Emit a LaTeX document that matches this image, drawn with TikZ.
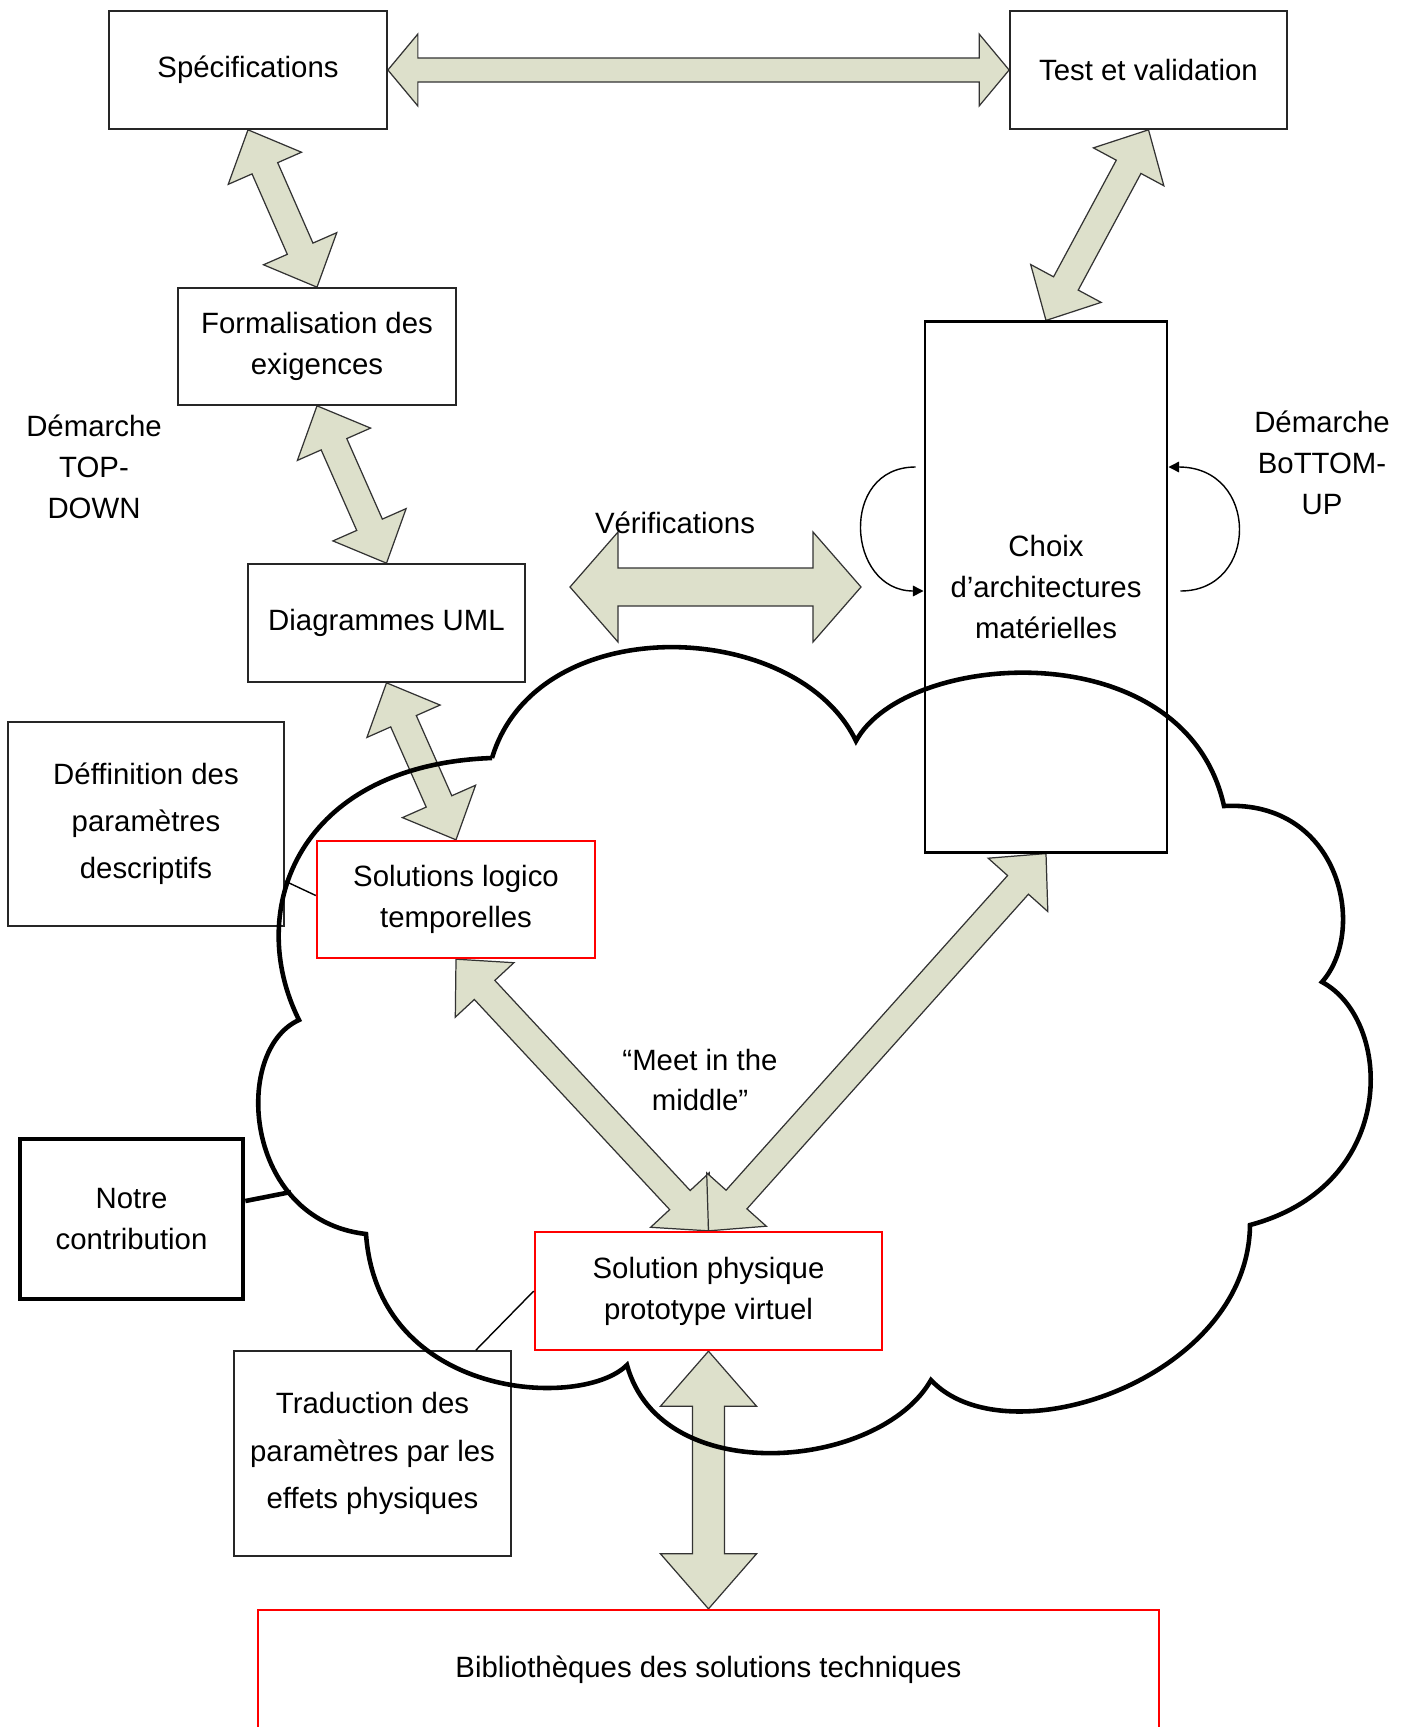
\documentclass[tikz,border=0pt]{standalone}
\usepackage{xcolor}
\definecolor{dde0cb}{HTML}{DDE0CB}
\definecolor{ff0000}{HTML}{FF0000}
\usepackage{fontspec}
\setmainfont[Ligatures=CommonOff]{Liberation Sans}
\usepackage{tikz}
\usetikzlibrary{calc}
\usetikzlibrary{arrows.meta}

\pgfdeclarelayer{background}
\pgfsetlayers{background,main}

\tikzset{
    plainbox/.style={draw=black!85, line width=0.45pt, fill=white, align=center, inner sep=0pt},
    redbox/.style={draw=ff0000, line width=0.65pt, fill=white, align=center, inner sep=0pt},
    choixbox/.style={draw=black, line width=0.8pt, fill=white, align=center, inner sep=0pt},
    contribbox/.style={draw=black, line width=1.3pt, fill=white, align=center, inner sep=0pt},
    blockarrow/.style={fill=dde0cb, draw=black!80, line width=0.35pt, line join=miter},
    cloudline/.style={draw=black, line width=1.3pt},
    thinline/.style={draw=black, line width=0.4pt},
    looparrow/.style={draw=black, line width=0.4pt, -{Triangle[length=3pt, width=3pt]}}
}

% double block arrow: tip, tip, shaft half width, head half width, head length
\newcommand{\dblarrow}[5]{%
    \coordinate (ta) at (#1);
    \coordinate (tb) at (#2);
    \coordinate (ha) at ($(ta)!#5*0.01cm!(tb)$);
    \coordinate (hb) at ($(tb)!#5*0.01cm!(ta)$);
    \filldraw[blockarrow] (ta)
        -- ($(ha)!#4*0.01cm!90:(ta)$) -- ($(ha)!#3*0.01cm!90:(ta)$)
        -- ($(hb)!#3*0.01cm!-90:(tb)$) -- ($(hb)!#4*0.01cm!-90:(tb)$)
        -- (tb)
        -- ($(hb)!#4*0.01cm!90:(tb)$) -- ($(hb)!#3*0.01cm!90:(tb)$)
        -- ($(ha)!#3*0.01cm!-90:(ta)$) -- ($(ha)!#4*0.01cm!-90:(ta)$)
        -- cycle;
}

\begin{document}
\begin{tikzpicture}[x=0.01cm, y=-0.01cm, font=\fontsize{8.35}{11.6}\selectfont]
            \useasboundingbox (0, 0) rectangle (1410, 1727);

            % boxes
            \node[plainbox, minimum width=2.78cm, minimum height=1.18cm] (spec) at (248, 70) {Spécifications};
            \node[plainbox, minimum width=2.77cm, minimum height=1.18cm] (test) at (1148.5, 70) {Test et validation};
            \node[plainbox, minimum width=2.78cm, minimum height=1.17cm] (form) at (317, 346.5) {Formalisation des\\exigences};
            \node[plainbox, minimum width=2.77cm, minimum height=1.18cm] (diag) at (386.5, 623) {Diagrammes UML};
            \node[choixbox, minimum width=2.42cm, minimum height=5.30cm] (choix) at (1046, 587) {Choix\\d’architectures\\matérielles};
            \node[plainbox, minimum width=2.76cm, minimum height=2.04cm, font=\fontsize{8.35}{13.4}\selectfont] (deff) at (146, 824) {Déffinition des\\paramètres\\descriptifs};
            \node[redbox, minimum width=2.78cm, minimum height=1.17cm] (logico) at (456, 899.5) {Solutions logico\\temporelles};
            \node[contribbox, minimum width=2.23cm, minimum height=1.60cm] (notre) at (131.5, 1219) {Notre\\contribution};
            \node[redbox, minimum width=3.47cm, minimum height=1.18cm] (phys) at (708.5, 1291) {Solution physique\\prototype virtuel};
            \node[plainbox, minimum width=2.77cm, minimum height=2.05cm, font=\fontsize{8.35}{13.4}\selectfont] (trad) at (372.5, 1453.5) {Traduction des\\paramètres par les\\effets physiques};
            \node[redbox, minimum width=9.01cm, minimum height=1.20cm] (biblio) at (708.5, 1670) {Bibliothèques des solutions techniques};

            \coordinate (verifl) at (570, 587);
            \coordinate (verifr) at (861, 587);

            % block arrows
            \begin{pgfonlayer}{background}
                \dblarrow{spec.east}{test.west}{12}{36}{30}
                \dblarrow{spec.south}{form.north}{14}{40}{42}
                \dblarrow{form.south}{diag.north}{14}{40}{42}
                \dblarrow{diag.south}{logico.north}{14}{40}{42}
                \dblarrow{test.south}{choix.north}{14}{40}{42}
                \dblarrow{verifl}{verifr}{19}{55}{48}
                \dblarrow{logico.south}{phys.north}{14}{40}{42}
                \dblarrow{phys.north}{choix.south}{14}{40}{42}
                \dblarrow{phys.south}{biblio.north}{16}{48}{55}
            \end{pgfonlayer}

            % labels
            \node[align=center] (topdown) at (94, 467) {Démarche\\TOP-\\DOWN};
            \node[align=center] (bottomup) at (1322, 463) {Démarche\\BoTTOM-\\UP};
            \node (verif) at (675, 523) {Vérifications};
            \node[align=center] (meet) at (700, 1080) {“Meet in the\\middle”};

            % cloud
            \draw[cloudline] (492, 758)
                .. controls (537, 608) and (797, 618) .. (856, 741)
                .. controls (905, 650) and (1185, 630) .. (1224, 806)
                .. controls (1340, 800) and (1368, 930) .. (1322, 982)
                .. controls (1393, 1020) and (1400, 1185) .. (1250, 1225)
                .. controls (1248, 1380) and (1005, 1460) .. (931, 1380)
                .. controls (880, 1470) and (661, 1490) .. (627, 1365)
                .. controls (582, 1410) and (378, 1400) .. (366, 1234)
                .. controls (243, 1220) and (232, 1050) .. (299, 1020)
                .. controls (244, 910) and (298, 765) .. (492, 758);

            \coordinate (cloudl) at (291, 1192);
            \draw[cloudline] ($(notre.east)+(0, -18)$) -- (cloudl);
            \draw[thinline] ($(deff.east)+(0, 57)$) -- ($(logico.west)+(0, -4)$);
            \draw[thinline] ($(trad.north east)+(-36, 0)$) -- (phys.west);

            % loops round the hardware box
            \coordinate (loopl) at ($(choix.west)+(-8, -120)$);
            \coordinate (loopr) at ($(choix.east)+(12, 4)$);
            \draw[looparrow] (loopl) .. controls +(-77, 0) and +(-77, 0) .. ($(choix.west)+(0, 4)$);
            \draw[looparrow] (loopr) .. controls +(79, 0) and +(91, 0) .. ($(choix.east)+(0, -120)$);
        \end{tikzpicture}
\end{document}
